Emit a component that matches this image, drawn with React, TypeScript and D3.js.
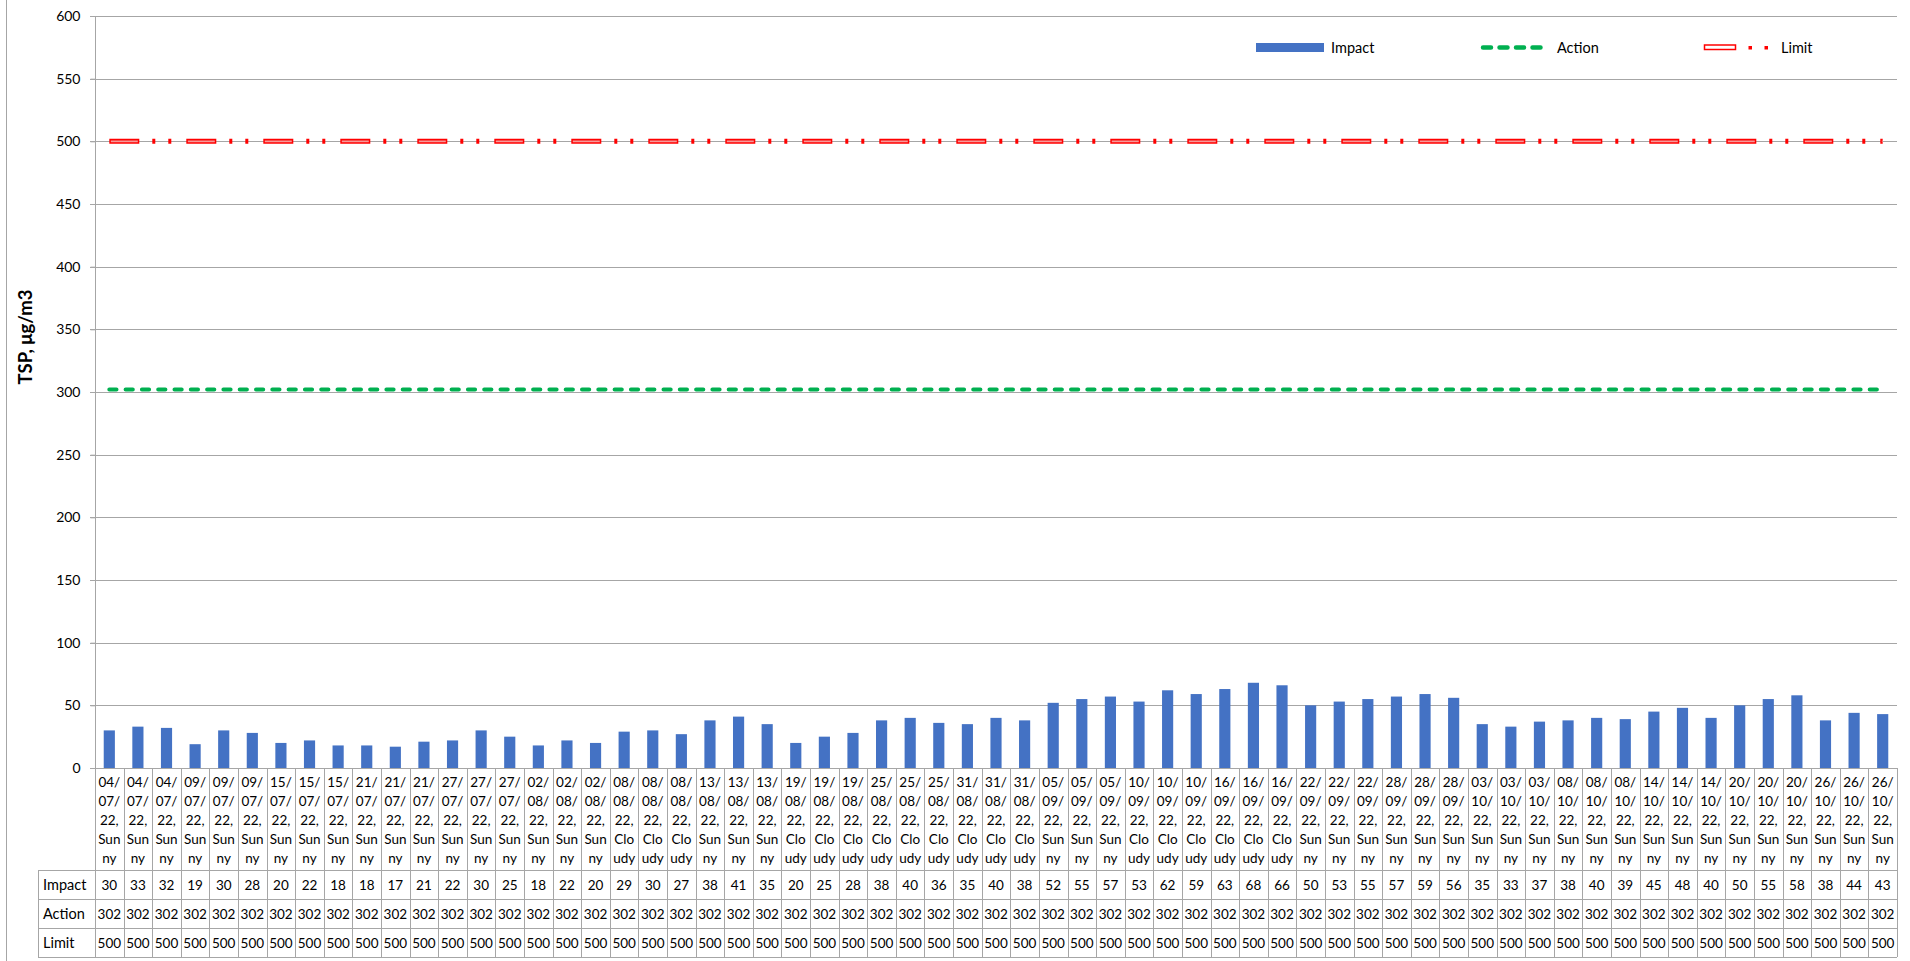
import React, { useEffect, useRef } from "react";
import * as d3 from "d3";

// sample dates (3 samples per monitoring day) and weather for each
const dates = [
  "04/07/22", "04/07/22", "04/07/22", "09/07/22", "09/07/22", "09/07/22",
  "15/07/22", "15/07/22", "15/07/22", "21/07/22", "21/07/22", "21/07/22",
  "27/07/22", "27/07/22", "27/07/22", "02/08/22", "02/08/22", "02/08/22",
  "08/08/22", "08/08/22", "08/08/22", "13/08/22", "13/08/22", "13/08/22",
  "19/08/22", "19/08/22", "19/08/22", "25/08/22", "25/08/22", "25/08/22",
  "31/08/22", "31/08/22", "31/08/22", "05/09/22", "05/09/22", "05/09/22",
  "10/09/22", "10/09/22", "10/09/22", "16/09/22", "16/09/22", "16/09/22",
  "22/09/22", "22/09/22", "22/09/22", "28/09/22", "28/09/22", "28/09/22",
  "03/10/22", "03/10/22", "03/10/22", "08/10/22", "08/10/22", "08/10/22",
  "14/10/22", "14/10/22", "14/10/22", "20/10/22", "20/10/22", "20/10/22",
  "26/10/22", "26/10/22", "26/10/22",
];

const weather = [
  "Sunny", "Sunny", "Sunny", "Sunny", "Sunny", "Sunny",
  "Sunny", "Sunny", "Sunny", "Sunny", "Sunny", "Sunny",
  "Sunny", "Sunny", "Sunny", "Sunny", "Sunny", "Sunny",
  "Cloudy", "Cloudy", "Cloudy", "Sunny", "Sunny", "Sunny",
  "Cloudy", "Cloudy", "Cloudy", "Cloudy", "Cloudy", "Cloudy",
  "Cloudy", "Cloudy", "Cloudy", "Sunny", "Sunny", "Sunny",
  "Cloudy", "Cloudy", "Cloudy", "Cloudy", "Cloudy", "Cloudy",
  "Sunny", "Sunny", "Sunny", "Sunny", "Sunny", "Sunny",
  "Sunny", "Sunny", "Sunny", "Sunny", "Sunny", "Sunny",
  "Sunny", "Sunny", "Sunny", "Sunny", "Sunny", "Sunny",
  "Sunny", "Sunny", "Sunny",
];

const impact = [
  30, 33, 32, 19, 30, 28, 20, 22, 18, 18, 17, 21, 22, 30, 25, 18,
  22, 20, 29, 30, 27, 38, 41, 35, 20, 25, 28, 38, 40, 36, 35, 40,
  38, 52, 55, 57, 53, 62, 59, 63, 68, 66, 50, 53, 55, 57, 59, 56,
  35, 33, 37, 38, 40, 39, 45, 48, 40, 50, 55, 58, 38, 44, 43,
];

const action = [
  302, 302, 302, 302, 302, 302, 302, 302, 302, 302, 302, 302, 302, 302, 302, 302,
  302, 302, 302, 302, 302, 302, 302, 302, 302, 302, 302, 302, 302, 302, 302, 302,
  302, 302, 302, 302, 302, 302, 302, 302, 302, 302, 302, 302, 302, 302, 302, 302,
  302, 302, 302, 302, 302, 302, 302, 302, 302, 302, 302, 302, 302, 302, 302,
];

const limit = [
  500, 500, 500, 500, 500, 500, 500, 500, 500, 500, 500, 500, 500, 500, 500, 500,
  500, 500, 500, 500, 500, 500, 500, 500, 500, 500, 500, 500, 500, 500, 500, 500,
  500, 500, 500, 500, 500, 500, 500, 500, 500, 500, 500, 500, 500, 500, 500, 500,
  500, 500, 500, 500, 500, 500, 500, 500, 500, 500, 500, 500, 500, 500, 500,
];

const yTicks = [0, 50, 100, 150, 200, 250, 300, 350, 400, 450, 500, 550, 600];

const FONT = "Lato, 'Open Sans', sans-serif";
const GRID = "#a6a6a6";
const BAR = "#4472c4";
const GREEN = "#00b050";
const RED = "#ff0000";

// excel wraps "04/07/22, Sunny" into narrow chunks
function wrapLabel(date, wx) {
  const p = date.split("/");
  return [p[0] + "/", p[1] + "/", p[2] + ",", wx.slice(0, 3), wx.slice(3)];
}

const App = () => {
  const ref = useRef(null);

  useEffect(() => {
    const W = 1910;
    const H = 961;
    const plotLeft = 95;
    const plotRight = 1897;
    const plotTop = 16;
    const plotBottom = 768;
    const rowTop = 870;
    const rowH = 29;
    const tableLeft = 38;

    const svg = d3.select(ref.current);
    svg.selectAll("*").remove();
    svg.attr("width", W).attr("height", H).style("font-family", FONT);

    const keys = dates.map((d, i) => i);

    const x = d3.scaleBand().domain(keys).range([plotLeft, plotRight]).padding(0);
    const y = d3.scaleLinear().domain([0, 600]).range([plotBottom, plotTop]);
    const cx = (i) => x(i) + x.bandwidth() / 2;

    // outer chart border on the left
    svg.append("line")
      .attr("x1", 6.5).attr("x2", 6.5).attr("y1", 0).attr("y2", H)
      .attr("stroke", GRID).attr("stroke-width", 1);

    // gridlines
    svg.append("g")
      .selectAll("line")
      .data(yTicks.filter((t) => t > 0))
      .enter()
      .append("line")
      .attr("x1", plotLeft - 5)
      .attr("x2", plotRight)
      .attr("y1", (d) => Math.round(y(d)) + 0.5)
      .attr("y2", (d) => Math.round(y(d)) + 0.5)
      .attr("stroke", GRID);

    // y axis
    const yAxis = svg.append("g")
      .attr("transform", `translate(${plotLeft + 0.5},0)`)
      .call(d3.axisLeft(y).tickValues(yTicks).tickSize(5).tickPadding(10));
    yAxis.select(".domain").remove();
    yAxis.selectAll(".tick line").attr("stroke", GRID);
    yAxis.selectAll(".tick text")
      .attr("fill", "#000")
      .style("font-size", "14px")
      .style("font-family", FONT);

    svg.append("text")
      .attr("transform", "translate(32,337) rotate(-90)")
      .attr("text-anchor", "middle")
      .style("font-size", "18.5px")
      .style("font-weight", "bold")
      .text("TSP, μg/m3");

    // bars
    const barW = x.bandwidth() * 0.39;
    svg.append("g")
      .selectAll("rect")
      .data(impact)
      .enter()
      .append("rect")
      .attr("x", (d, i) => cx(i) - barW / 2)
      .attr("y", (d) => y(d))
      .attr("width", barW)
      .attr("height", (d) => y(0) - y(d))
      .attr("fill", BAR);

    const line = d3.line().x((d, i) => cx(i)).y((d) => y(d));

    // action line
    svg.append("path")
      .datum(action)
      .attr("d", line)
      .attr("fill", "none")
      .attr("stroke", GREEN)
      .attr("stroke-width", 4)
      .attr("stroke-linecap", "round")
      .attr("stroke-dasharray", "7.2 9.1");

    // limit line: outlined long dash + two dots
    svg.append("path")
      .datum(limit)
      .attr("d", line)
      .attr("fill", "none")
      .attr("stroke", RED)
      .attr("stroke-width", 5)
      .attr("stroke-dasharray", "30 13 3 13 3 15");
    svg.append("path")
      .datum(limit)
      .attr("d", line)
      .attr("fill", "none")
      .attr("stroke", "#f59a9a")
      .attr("stroke-width", 1.6)
      .attr("stroke-dasharray", "0 1.5 27 48.5");

    // x axis line & table
    const tbl = svg.append("g").attr("stroke", GRID).attr("stroke-width", 1);
    tbl.append("line")
      .attr("x1", plotLeft - 5).attr("x2", plotRight)
      .attr("y1", plotBottom + 0.5).attr("y2", plotBottom + 0.5);
    tbl.append("line")
      .attr("x1", plotLeft + 0.5).attr("x2", plotLeft + 0.5)
      .attr("y1", plotTop).attr("y2", rowTop + rowH * 3);
    tbl.selectAll(".vline")
      .data(keys)
      .enter()
      .append("line")
      .attr("x1", (i) => Math.round(x(i) + x.bandwidth()) + 0.5)
      .attr("x2", (i) => Math.round(x(i) + x.bandwidth()) + 0.5)
      .attr("y1", plotBottom)
      .attr("y2", rowTop + rowH * 3);
    tbl.selectAll(".hline")
      .data([0, 1, 2, 3])
      .enter()
      .append("line")
      .attr("x1", tableLeft)
      .attr("x2", plotRight)
      .attr("y1", (r) => rowTop + r * rowH + 0.5)
      .attr("y2", (r) => rowTop + r * rowH + 0.5);
    tbl.append("line")
      .attr("x1", tableLeft + 0.5).attr("x2", tableLeft + 0.5)
      .attr("y1", rowTop).attr("y2", rowTop + rowH * 3);

    // category labels
    const cats = svg.append("g").style("font-size", "13.5px").attr("text-anchor", "middle");
    keys.forEach((i) => {
      const lines = wrapLabel(dates[i], weather[i]);
      lines.forEach((t, j) => {
        cats.append("text")
          .attr("x", cx(i))
          .attr("y", 787 + j * 19)
          .text(t);
      });
    });

    // data table rows
    const rows = [
      { name: "Impact", values: impact },
      { name: "Action", values: action },
      { name: "Limit", values: limit },
    ];
    rows.forEach((r, k) => {
      const baseY = rowTop + k * rowH + 20;
      svg.append("text")
        .attr("x", 43)
        .attr("y", baseY)
        .style("font-size", "14.5px")
        .text(r.name);
      svg.append("g")
        .selectAll("text")
        .data(r.values)
        .enter()
        .append("text")
        .attr("x", (d, i) => cx(i))
        .attr("y", baseY)
        .attr("text-anchor", "middle")
        .style("font-size", "13.5px")
        .text((d) => d);
    });

    // legend
    const lg = svg.append("g").style("font-size", "14.5px");
    const ly = 47.5;
    lg.append("rect")
      .attr("x", 1256).attr("y", ly - 4.5).attr("width", 68).attr("height", 9)
      .attr("fill", BAR);
    lg.append("text").attr("x", 1331).attr("y", ly + 5).text("Impact");

    lg.append("line")
      .attr("x1", 1483).attr("x2", 1549).attr("y1", ly).attr("y2", ly)
      .attr("stroke", GREEN).attr("stroke-width", 4.5)
      .attr("stroke-linecap", "round")
      .attr("stroke-dasharray", "8 8.5");
    lg.append("text").attr("x", 1557).attr("y", ly + 5).text("Action");

    lg.append("rect")
      .attr("x", 1704.5).attr("y", ly - 2.5).attr("width", 31).attr("height", 4.5)
      .attr("fill", "#fff").attr("stroke", RED).attr("stroke-width", 1.5);
    lg.append("rect").attr("x", 1748.5).attr("y", ly - 1.5).attr("width", 3.5).attr("height", 3.5).attr("fill", RED);
    lg.append("rect").attr("x", 1764.5).attr("y", ly - 1.5).attr("width", 3.5).attr("height", 3.5).attr("fill", RED);
    lg.append("text").attr("x", 1781).attr("y", ly + 5).text("Limit");
  }, []);

  return (
    <svg ref={ref} style={{ position: "absolute", left: 0, top: 0, background: "#fff" }}></svg>
  );
};

export default App;
